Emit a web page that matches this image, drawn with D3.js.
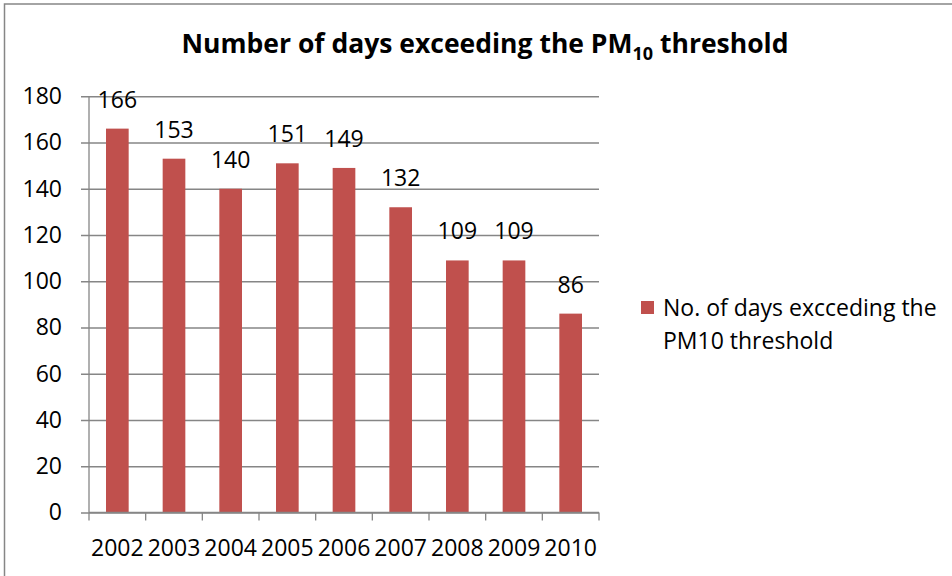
<!DOCTYPE html>
<html>
<head>
<meta charset="utf-8">
<script src="https://cdn.jsdelivr.net/npm/d3@7"></script>
<style>
  body { margin: 0; background: #fff; }
  svg { display: block; }
</style>
</head>
<body>
<div class="chart"></div>
<script>
const WIDTH = 952;
const HEIGHT = 576;
const FONT = "'Open Sans', 'Noto Sans', sans-serif";
const BAR_COLOR = '#C0504D';
const GRID_COLOR = '#868686';

const years = ['2002', '2003', '2004', '2005', '2006', '2007', '2008', '2009', '2010'];
const days = [166, 153, 140, 151, 149, 132, 109, 109, 86];
const yTicks = [0, 20, 40, 60, 80, 100, 120, 140, 160, 180];
const legendLines = ['No. of days excceding the', 'PM10 threshold'];

const plot = { left: 89, right: 599, top: 96.25, bottom: 512.5 };

const svg = d3.select('.chart')
  .append('svg')
  .attr('width', WIDTH)
  .attr('height', HEIGHT);

// chart border (runs off the right and bottom edges)
svg.append('rect')
  .attr('x', 4.5)
  .attr('y', 4)
  .attr('width', WIDTH + 10)
  .attr('height', HEIGHT + 10)
  .style('fill', '#fff')
  .style('stroke', '#868686')
  .style('stroke-width', 1.5);

const x = d3.scaleBand()
  .domain(years)
  .range([plot.left, plot.right])
  .paddingInner(0.6)
  .paddingOuter(0.3);

const y = d3.scaleLinear()
  .domain([0, 180])
  .range([plot.bottom, plot.top]);

// y axis with gridlines
const yAxis = svg.append('g')
  .attr('transform', `translate(${plot.left}, 0)`)
  .call(d3.axisLeft(y)
    .tickValues(yTicks)
    .tickSize(-(plot.right - plot.left))
    .tickSizeOuter(0)
    .tickPadding(0));

yAxis.select('.domain').remove();
yAxis.selectAll('.tick line')
  .attr('x1', -8)
  .style('stroke', GRID_COLOR)
  .style('stroke-width', 1.3);
yAxis.selectAll('.tick text')
  .attr('x', -27)
  .style('font-family', FONT)
  .style('font-size', '23px')
  .style('fill', '#000');

// vertical axis line
svg.append('line')
  .attr('x1', plot.left)
  .attr('x2', plot.left)
  .attr('y1', plot.top)
  .attr('y2', plot.bottom)
  .style('stroke', GRID_COLOR)
  .style('stroke-width', 1.3);

// bars
svg.selectAll('.bar')
  .data(days)
  .enter()
  .append('rect')
  .attr('class', 'bar')
  .attr('x', (d, i) => x(years[i]))
  .attr('y', (d) => y(d))
  .attr('width', x.bandwidth())
  .attr('height', (d) => y(0) - y(d))
  .style('fill', BAR_COLOR);

// data labels
svg.selectAll('.value')
  .data(days)
  .enter()
  .append('text')
  .attr('class', 'value')
  .attr('x', (d, i) => x(years[i]) + x.bandwidth() / 2)
  .attr('y', (d) => y(d) - 21)
  .text((d) => d)
  .style('text-anchor', 'middle')
  .style('font-family', FONT)
  .style('font-size', '23px')
  .style('fill', '#000');

// x axis
const xAxis = svg.append('g')
  .attr('transform', `translate(0, ${plot.bottom})`)
  .call(d3.axisBottom(x).tickSize(0).tickPadding(27));

xAxis.select('.domain')
  .attr('d', `M${plot.left},0H${plot.right}`)
  .style('stroke', GRID_COLOR)
  .style('stroke-width', 1.3);
xAxis.selectAll('.tick text')
  .style('font-family', FONT)
  .style('font-size', '23px')
  .style('fill', '#000');

// x tick marks sit at the band boundaries
const step = x.step();
const boundaries = years.map((d) => x(d) - (step - x.bandwidth()) / 2)
  .concat([plot.right]);
xAxis.selectAll('.bound')
  .data(boundaries)
  .enter()
  .append('line')
  .attr('class', 'bound')
  .attr('x1', (d) => d)
  .attr('x2', (d) => d)
  .attr('y1', 0)
  .attr('y2', 8)
  .style('stroke', GRID_COLOR)
  .style('stroke-width', 1.3);

// title
const title = svg.append('text')
  .attr('x', 485)
  .attr('y', 53)
  .style('text-anchor', 'middle')
  .style('font-family', FONT)
  .style('font-weight', 'bold')
  .style('font-size', '26.5px')
  .style('fill', '#000');
title.append('tspan').text('Number of days exceeding the PM');
title.append('tspan').text('10').attr('dy', 7).style('font-size', '18px');
title.append('tspan').text(' threshold').attr('dy', -7);

// legend
svg.append('rect')
  .attr('x', 641)
  .attr('y', 301)
  .attr('width', 13)
  .attr('height', 13)
  .style('fill', BAR_COLOR);

svg.selectAll('.legend')
  .data(legendLines)
  .enter()
  .append('text')
  .attr('class', 'legend')
  .attr('x', 663)
  .attr('y', (d, i) => 316 + i * 33)
  .text((d) => d)
  .style('font-family', FONT)
  .style('font-size', '23px')
  .style('fill', '#000');
</script>
</body>
</html>
